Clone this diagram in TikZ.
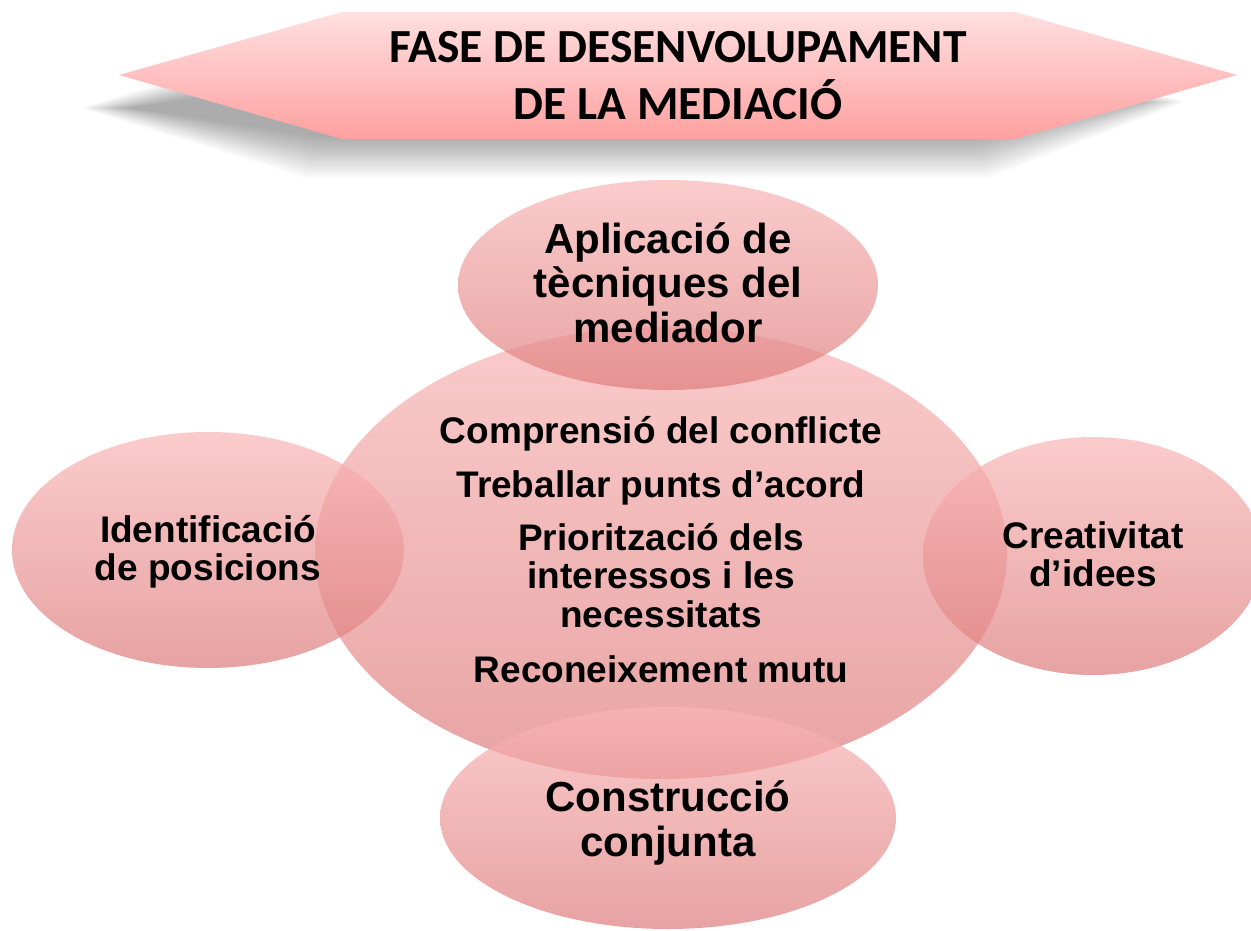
\documentclass[tikz,border=0pt]{standalone}
\usepackage{fontspec}
\setmainfont{Liberation Sans}
\newfontfamily\bannerfont{Carlito}
\usetikzlibrary{shapes.geometric}
\definecolor{elltop}{RGB}{250,182,182}
\definecolor{ellbot}{RGB}{222,124,124}
\definecolor{bantop}{RGB}{255,224,224}
\definecolor{banbot}{RGB}{255,160,160}
\tikzset{
  bubble/.style={ellipse, inner sep=0pt, draw=none, top color=elltop, bottom color=ellbot, fill opacity=0.7},
  bigtxt/.style={font=\fontsize{42}{44.5}\selectfont\bfseries, align=center, anchor=base, inner sep=0pt, text=black},
  midtxt/.style={font=\fontsize{37}{38.5}\selectfont\bfseries, align=center, anchor=base, inner sep=0pt, text=black},
  sidetxt/.style={font=\fontsize{37}{37.5}\selectfont\bfseries, align=center, anchor=base, inner sep=0pt, text=black},
  titletxt/.style={font=\bannerfont\fontsize{47.5}{57}\selectfont\bfseries, align=center, anchor=base, inner sep=0pt, text=black},
}
\begin{document}
\begin{tikzpicture}[x=1pt,y=-1pt]
\useasboundingbox (0,0) rectangle (1251,930);
\fill[white] (0,0) rectangle (1251,930);
% blurred shadow of the banner
\foreach \d in {12,9.6,...,-30}{
  \fill[black, opacity=0.02]
    ({95-1.2*\d},108) -- ({310-0.3*\d},{50-\d}) -- ({985+0.3*\d},{50-\d}) --
    ({1170+1.2*\d},102) -- ({985+0.3*\d},{166+\d}) -- ({310-0.3*\d},{166+\d}) -- cycle;
}
% banner
\shade[top color=bantop, bottom color=banbot]
  (119,75) -- (342,12) -- (1015,12) -- (1237,75) -- (1015,139) -- (342,139) -- cycle;
\node[titletxt] (title) at (678,119) {FASE DE DESENVOLUPAMENT\\DE LA MEDIACIÓ};
% ellipses
\node[bubble, minimum width=692pt, minimum height=452pt] (central) at (661,553) {};
\node[bubble, minimum width=420pt, minimum height=210pt] (tecniques) at (668,285) {};
\node[bubble, minimum width=392pt, minimum height=236pt] (posicions) at (208,550) {};
\node[bubble, minimum width=340pt, minimum height=238pt] (idees) at (1093,556) {};
\node[bubble, minimum width=456pt, minimum height=222pt] (construccio) at (668,818) {};
% texts
\node[bigtxt] (ttec) at (668,342) {Aplicació de\\tècniques del\\mediador};
\node[sidetxt] (tpos) at (208,580) {Identificació\\de posicions};
\node[sidetxt] (tide) at (1093,586) {Creativitat\\d’idees};
\node[bigtxt] (tcon) at (668,856) {Construcció\\conjunta};
\node[midtxt] (c1) at (661,443) {Comprensió del conflicte};
\node[midtxt] (c2) at (661,497) {Treballar punts d’acord};
\node[midtxt] (c3) at (661,627) {Priorització dels\\interessos i les\\necessitats};
\node[midtxt] (c4) at (661,682) {Reconeixement mutu};
\end{tikzpicture}
\end{document}
